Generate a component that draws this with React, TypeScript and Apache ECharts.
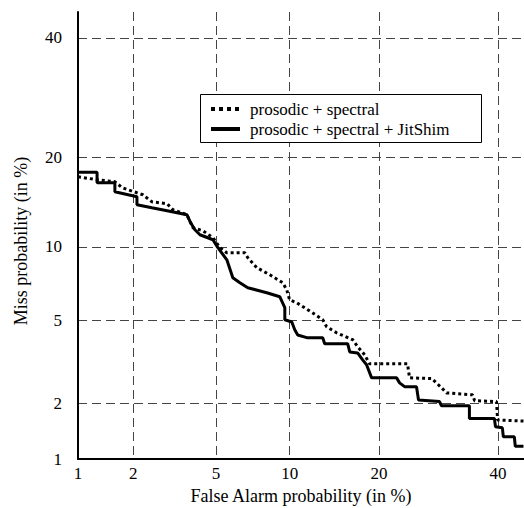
import React, { useEffect, useRef } from "react";
import * as echarts from "echarts";

// Tick values (in %) for both probit-scaled (normal deviate) axes
const tickPercents = [1, 2, 5, 10, 20, 40];
const axisMinPercent = 1;
const axisMaxPercent = 45;

const seriesNames = ["prosodic + spectral", "prosodic + spectral + JitShim"];
const xAxisTitle = "False Alarm probability (in %)";
const yAxisTitle = "Miss probability (in %)";

// "prosodic + spectral" (dotted): false alarm % and miss %
const spectralFA = [1.0, 1.28, 1.6, 1.75, 2.09, 2.24, 2.49, 2.96, 3.16, 3.68, 3.93, 4.37, 4.84, 5.2, 5.57, 6.64, 6.83, 7.44, 8.38, 9.41, 9.74, 9.99, 10.62, 12.14, 13.16, 13.58, 14.68, 16.58, 17.19, 18.09, 18.73, 24.18, 24.5, 28.06, 29.71, 30.58, 35.2, 35.6, 39.7, 39.9, 44.9];
const spectralMiss = [17.44, 17.07, 16.82, 16.09, 15.49, 15.26, 14.46, 14.24, 13.58, 13.06, 11.74, 11.45, 10.8, 9.92, 9.49, 9.49, 9.09, 8.31, 7.79, 7.23, 6.77, 6.15, 5.97, 5.4, 5.04, 4.69, 4.41, 4.1, 3.81, 3.49, 3.16, 3.16, 2.7, 2.68, 2.41, 2.27, 2.22, 2.07, 2.05, 1.64, 1.62];

// "prosodic + spectral + JitShim" (solid): false alarm % and miss %
const jitshimFA = [1.0, 1.28, 1.28, 1.6, 1.6, 2.09, 2.09, 2.49, 2.96, 3.13, 3.68, 3.81, 4.01, 4.23, 4.84, 5.09, 5.57, 5.91, 6.33, 6.83, 8.15, 9.17, 9.58, 9.58, 10.18, 10.44, 10.71, 11.55, 13.16, 13.37, 15.97, 16.22, 17.19, 17.83, 18.34, 19.01, 22.53, 22.98, 23.73, 25.59, 25.91, 29.37, 29.71, 34.64, 34.64, 39.29, 39.5, 40.81, 41.0, 43.12, 43.3, 44.9];
const jitshimMiss = [18.02, 18.02, 16.7, 16.7, 15.61, 15.03, 14.13, 13.8, 13.48, 13.37, 13.06, 12.34, 11.55, 11.08, 10.62, 9.92, 8.92, 7.58, 7.23, 6.9, 6.58, 6.33, 5.69, 5.04, 4.93, 4.55, 4.31, 4.19, 4.19, 3.93, 3.93, 3.6, 3.56, 3.3, 3.13, 2.7, 2.7, 2.55, 2.44, 2.44, 2.09, 2.05, 1.95, 1.95, 1.67, 1.67, 1.51, 1.49, 1.33, 1.33, 1.18, 1.18];

// Inverse standard normal CDF (Acklam)
function probit(p: number): number {
  const a = [-3.969683028665376e1, 2.209460984245205e2, -2.759285104469687e2, 1.38357751867269e2, -3.066479806614716e1, 2.506628277459239];
  const b = [-5.447609879822406e1, 1.615858368580409e2, -1.556989798598866e2, 6.680131188771972e1, -1.328068155288572e1];
  const c = [-7.784894002430293e-3, -3.223964580411365e-1, -2.400758277161838, -2.549732539343734, 4.374664141464968, 2.938163982698783];
  const d = [7.784695709041462e-3, 3.224671290700398e-1, 2.445134137142996, 3.754408661907416];
  const pl = 0.02425;
  if (p < pl) {
    const q = Math.sqrt(-2 * Math.log(p));
    return (((((c[0] * q + c[1]) * q + c[2]) * q + c[3]) * q + c[4]) * q + c[5]) / ((((d[0] * q + d[1]) * q + d[2]) * q + d[3]) * q + 1);
  }
  if (p <= 1 - pl) {
    const q = p - 0.5;
    const r = q * q;
    return ((((((a[0] * r + a[1]) * r + a[2]) * r + a[3]) * r + a[4]) * r + a[5]) * q) / (((((b[0] * r + b[1]) * r + b[2]) * r + b[3]) * r + b[4]) * r + 1);
  }
  const q = Math.sqrt(-2 * Math.log(1 - p));
  return -(((((c[0] * q + c[1]) * q + c[2]) * q + c[3]) * q + c[4]) * q + c[5]) / ((((d[0] * q + d[1]) * q + d[2]) * q + d[3]) * q + 1);
}

const pz = (pct: number) => probit(pct / 100);
const tickZ = tickPercents.map(pz);
const fmt = (v: number) => {
  const i = tickZ.findIndex((t) => Math.abs(t - v) < 1e-6);
  return i >= 0 ? String(tickPercents[i]) : "";
};

const FONT = "Liberation Serif";

export default function App() {
  const ref = useRef<HTMLDivElement>(null);
  useEffect(() => {
    if (!ref.current) return;
    const chart = echarts.init(ref.current, undefined, { renderer: "svg" });
    const splitStyle = { show: true, lineStyle: { color: "#444", width: 1, type: [9, 5] as any } };
    const makeAxis = (name: string, isY: boolean) => ({
      type: "value" as const,
      min: pz(axisMinPercent),
      max: pz(axisMaxPercent),
      name,
      nameLocation: "middle" as const,
      nameGap: 27,
      nameTextStyle: { fontFamily: FONT, fontSize: 18, color: "#000" },
      axisLine: { show: true, onZero: false, lineStyle: { color: "#000", width: 2 } },
      axisTick: { show: false, customValues: tickZ },
      axisLabel: {
        customValues: tickZ,
        formatter: fmt,
        fontFamily: FONT,
        fontSize: 17,
        color: "#000",
        margin: isY ? 16 : 6,
        showMinLabel: true,
        showMaxLabel: true,
      },
      splitLine: splitStyle,
    });
    const legendFont = { fontFamily: FONT, fontSize: 17, fill: "#000" };
    chart.setOption({
      animation: false,
      backgroundColor: "#fff",
      textStyle: { fontFamily: FONT },
      grid: {
        left: 78,
        top: 12,
        right: 0,
        bottom: 49,
        containLabel: false,
        outerBoundsMode: "none",
      },
      xAxis: makeAxis(xAxisTitle, false),
      yAxis: makeAxis("", true),
      graphic: [
        {
          type: "text",
          x: 21,
          y: 241,
          rotation: Math.PI / 2,
          z: 100,
          style: { text: yAxisTitle, fontFamily: FONT, fontSize: 18, fill: "#000", align: "center", verticalAlign: "middle" },
        },
        {
          type: "rect",
          z: 100,
          shape: { x: 200.5, y: 94.5, width: 281, height: 48 },
          style: { fill: "#fff", stroke: "#000", lineWidth: 1 },
        },
        {
          type: "line",
          z: 101,
          shape: { x1: 211, y1: 109, x2: 240, y2: 109 },
          style: { stroke: "#000", lineWidth: 4, lineDash: [4, 4] },
        },
        {
          type: "line",
          z: 101,
          shape: { x1: 211, y1: 129, x2: 240, y2: 129 },
          style: { stroke: "#000", lineWidth: 4 },
        },
        {
          type: "text",
          z: 101,
          x: 250,
          y: 109,
          style: { text: seriesNames[0], ...legendFont, verticalAlign: "middle", align: "left" },
        },
        {
          type: "text",
          z: 101,
          x: 250,
          y: 129,
          style: { text: seriesNames[1], ...legendFont, verticalAlign: "middle", align: "left" },
        },
      ],
      series: [
        {
          name: seriesNames[0],
          type: "line",
          symbol: "none",
          data: spectralFA.map((x, i) => [pz(x), pz(spectralMiss[i])]),
          lineStyle: { color: "#000", width: 3, type: [3, 3], cap: "butt" },
          itemStyle: { color: "#000" },
          z: 3,
        },
        {
          name: seriesNames[1],
          type: "line",
          symbol: "none",
          data: jitshimFA.map((x, i) => [pz(x), pz(jitshimMiss[i])]),
          lineStyle: { color: "#000", width: 3, type: "solid" },
          itemStyle: { color: "#000" },
          z: 4,
        },
      ],
    });
    return () => chart.dispose();
  }, []);
  return <div ref={ref} style={{ width: 524, height: 508, position: "absolute", left: 0, top: 0 }} />;
}
